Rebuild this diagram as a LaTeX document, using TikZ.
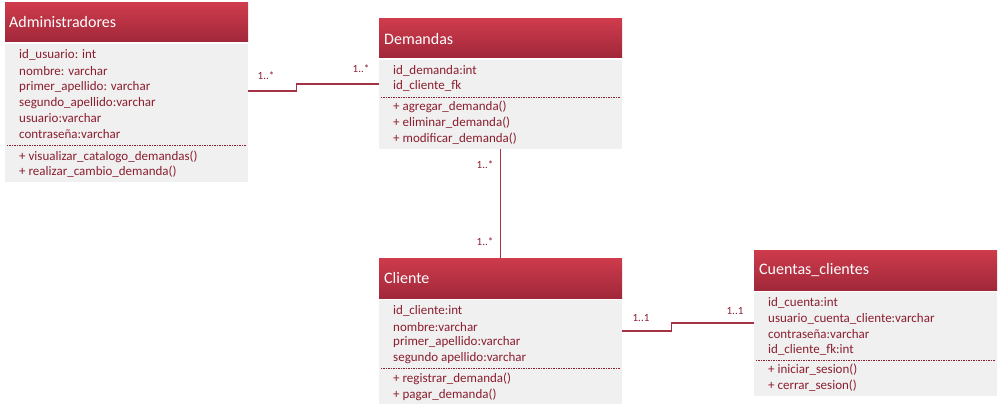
\documentclass[tikz,border=0pt]{standalone}
\usepackage{fontspec}
\setmainfont{Carlito}
\definecolor{hdrtop}{HTML}{CE3B4C}
\definecolor{hdrbot}{HTML}{A0283A}
\definecolor{bodyfill}{HTML}{F0F0F0}
\definecolor{txt}{HTML}{8A1E2E}
\definecolor{linec}{HTML}{A33244}
\begin{document}
\begin{tikzpicture}[x=1pt,y=-1pt,
  hdr/.style={rectangle, inner sep=0pt, top color=hdrtop, bottom color=hdrbot, draw=none},
  bodybox/.style={rectangle, inner sep=0pt, fill=bodyfill, draw=none},
  title/.style={anchor=west, inner sep=0pt, text=white, font=\fontsize{16}{18}\selectfont},
  attr/.style={anchor=west, inner sep=0pt, text=txt, font=\fontsize{13}{15}\selectfont},
  mult/.style={inner sep=0pt, text=txt, font=\fontsize{11}{12}\selectfont},
  sep/.style={draw=txt, line width=0.8pt, dash pattern=on 1.5pt off 1pt},
  assoc/.style={draw=linec, line width=1.1pt}]
\useasboundingbox (0,0) rectangle (1000,409);

% ---------- Administradores ----------
\node[hdr, minimum width=243pt, minimum height=39pt] (admhead) at (126.5,22.5) {};
\node[bodybox, minimum width=243pt, minimum height=138pt] (admbody) at (126.5,113) {};
\node[title] (admt) at (9,22) {Administradores};
\node[attr] (adma1) at (19,55) {id\_usuario: int};
\node[attr] (adma2) at (19,71) {nombre: varchar};
\node[attr] (adma3) at (19,87) {primer\_apellido: varchar};
\node[attr] (adma4) at (19,103) {segundo\_apellido:varchar};
\node[attr] (adma5) at (19,118) {usuario:varchar};
\node[attr] (adma6) at (19,134) {contraseña:varchar};
\draw[sep] (admbody.west |- 0,145) ++(2,0) -- ([xshift=-2pt]admbody.east |- 0,145);
\node[attr] (admm1) at (19,157) {+ visualizar\_catalogo\_demandas()};
\node[attr] (admm2) at (19,172) {+ realizar\_cambio\_demanda()};

% ---------- Demandas ----------
\node[hdr, minimum width=243pt, minimum height=39pt] (demhead) at (500.5,38.5) {};
\node[bodybox, minimum width=243pt, minimum height=89pt] (dembody) at (500.5,104.5) {};
\node[title] (demt) at (384,39) {Demandas};
\node[attr] (dema1) at (393,71) {id\_demanda:int};
\node[attr] (dema2) at (393,86) {id\_cliente\_fk};
\draw[sep] (dembody.west |- 0,97) ++(2,0) -- ([xshift=-2pt]dembody.east |- 0,97);
\node[attr] (demm1) at (393,107) {+ agregar\_demanda()};
\node[attr] (demm2) at (393,123) {+ eliminar\_demanda()};
\node[attr] (demm3) at (393,139) {+ modificar\_demanda()};

% ---------- Cliente ----------
\node[hdr, minimum width=243pt, minimum height=40pt] (clihead) at (500.5,278) {};
\node[bodybox, minimum width=243pt, minimum height=104pt] (clibody) at (500.5,352) {};
\node[title] (clit) at (384,278) {Cliente};
\node[attr] (clia1) at (393,311) {id\_cliente:int};
\node[attr] (clia2) at (393,327) {nombre:varchar};
\node[attr] (clia3) at (393,342) {primer\_apellido:varchar};
\node[attr] (clia4) at (393,358) {segundo apellido:varchar};
\draw[sep] (clibody.west |- 0,368) ++(2,0) -- ([xshift=-2pt]clibody.east |- 0,368);
\node[attr] (clim1) at (393,379) {+ registrar\_demanda()};
\node[attr] (clim2) at (393,395) {+ pagar\_demanda()};

% ---------- Cuentas_clientes ----------
\node[hdr, minimum width=243pt, minimum height=40pt] (cuehead) at (875.5,270) {};
\node[bodybox, minimum width=243pt, minimum height=104pt] (cuebody) at (875.5,344) {};
\node[title] (cuet) at (759,270) {Cuentas\_clientes};
\node[attr] (cuea1) at (768,303) {id\_cuenta:int};
\node[attr] (cuea2) at (768,319) {usuario\_cuenta\_cliente:varchar};
\node[attr] (cuea3) at (768,334) {contraseña:varchar};
\node[attr] (cuea4) at (768,350) {id\_cliente\_fk:int};
\draw[sep] (cuebody.west |- 0,360) ++(2,0) -- ([xshift=-2pt]cuebody.east |- 0,360);
\node[attr] (cuem1) at (768,370) {+ iniciar\_sesion()};
\node[attr] (cuem2) at (768,386) {+ cerrar\_sesion()};

% ---------- Associations ----------
\draw[assoc] (admbody.east |- 0,91) -- (296.5,91) -- (296.5,84) -- (dembody.west |- 0,84);
\node[mult] (m1) at (266,76) {1..*};
\node[mult] (m2) at (361,69) {1..*};

\draw[assoc] (dembody.south) -- (clihead.north);
\node[mult] (m3) at (485,165) {1..*};
\node[mult] (m4) at (485,242) {1..*};

\draw[assoc] (clibody.east |- 0,331) -- (671.5,331) -- (671.5,323) -- (cuebody.west |- 0,323);
\node[mult] (m5) at (641,318) {1..1};
\node[mult] (m6) at (735,311) {1..1};
\end{tikzpicture}
\end{document}
